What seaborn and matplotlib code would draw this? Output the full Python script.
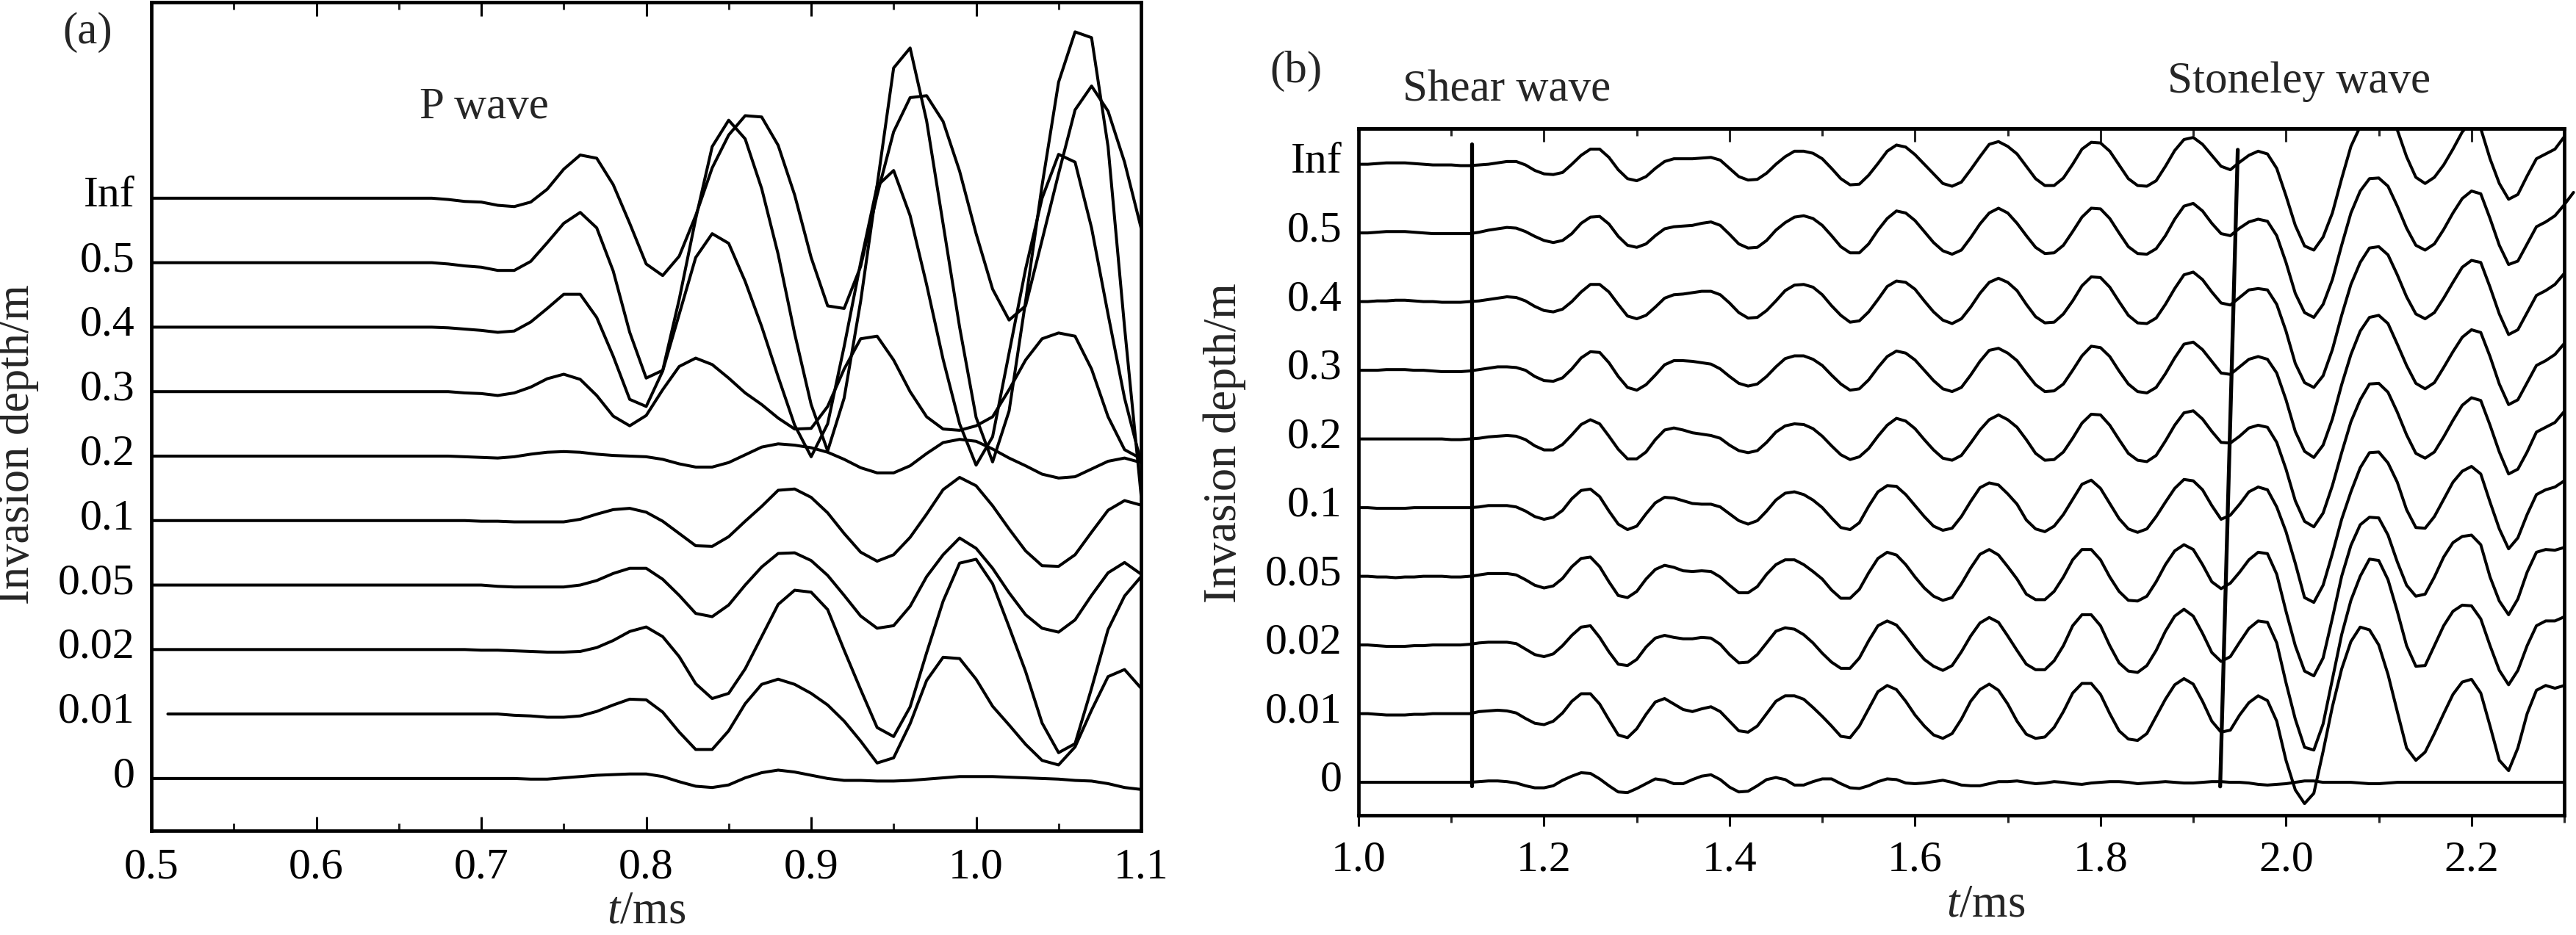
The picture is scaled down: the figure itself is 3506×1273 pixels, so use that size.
import numpy as np
import matplotlib
matplotlib.use('Agg')
import matplotlib.pyplot as plt
import matplotlib.transforms as mtransforms
from matplotlib.font_manager import findfont, FontProperties
import seaborn as sns
from matplotlib.ticker import MultipleLocator, FormatStrFormatter

sns.set_style('ticks')
# fail loudly if the Times-like face is missing instead of silently falling back
findfont(FontProperties(family='Liberation Serif'), fallback_to_default=False)
plt.rcParams['font.family'] = ['Liberation Serif', 'DejaVu Serif']
plt.rcParams['mathtext.fontset'] = 'custom'
plt.rcParams['mathtext.rm'] = 'Liberation Serif'
plt.rcParams['mathtext.it'] = 'Liberation Serif:italic'

depth_labels = ['0', '0.01', '0.02', '0.05', '0.1', '0.2', '0.3', '0.4', '0.5', 'Inf']

# ---------------- (a) P wave, 0.50-1.10 ms, one sample every 0.01 ms ----------------
t_a = np.round(np.arange(0.50, 1.1001, 0.01), 2)

a_inf = [0.0] * 18 + [-0.02, -0.05,
         -0.06, -0.11, -0.13, -0.06, 0.14, 0.45, 0.67, 0.62, 0.21, -0.39,
         -1.02, -1.20, -0.90, -0.27, 0.47, 0.98, 1.28, 1.26, 0.82, 0.05,
         -0.92, -1.67, -1.71, -1.06, 0.05, 1.03, 1.56, 1.59, 1.19, 0.42,
         -0.55, -1.41, -1.89, -1.67, -0.65, 0.38, 1.37, 1.74, 1.35, 0.56,
         -0.46]
a_05 = [0.0] * 18 + [-0.02, -0.05,
        -0.07, -0.12, -0.12, 0.02, 0.31, 0.61, 0.78, 0.54, -0.13, -1.08,
        -1.79, -1.67, -0.57, 0.68, 1.80, 2.21, 1.92, 1.15, 0.13, -1.10,
        -2.20, -2.92, -2.10, -0.60, 1.20, 3.02, 3.33, 2.20, 0.60, -1.00,
        -2.40, -3.09, -2.30, -0.60, 1.20, 2.80, 3.58, 3.49, 1.80, -1.00,
        -3.60]
a_04 = [0.0] * 18 + [-0.01, -0.03,
        -0.05, -0.08, -0.06, 0.08, 0.29, 0.51, 0.51, 0.15, -0.45, -1.12,
        -1.23, -0.68, 0.20, 1.08, 1.45, 1.30, 0.71, 0.01, -0.77, -1.52,
        -2.01, -1.50, -0.30, 1.00, 2.19, 2.43, 1.73, 0.66, -0.50, -1.50,
        -2.14, -1.70, -0.40, 0.90, 2.00, 2.68, 2.56, 1.54, 0.20, -1.10,
        -2.10]
a_03 = [0.0] * 19 + [-0.02,
        -0.03, -0.06, -0.02, 0.07, 0.20, 0.27, 0.19, -0.06, -0.38, -0.53,
        -0.37, 0.03, 0.39, 0.52, 0.42, 0.21, -0.02, -0.20, -0.41, -0.58,
        -0.57, -0.23, 0.35, 0.82, 0.86, 0.49, 0.00, -0.39, -0.58, -0.60,
        -0.53, -0.39, 0.03, 0.49, 0.82, 0.91, 0.86, 0.35, -0.39, -0.90,
        -1.04]
a_02 = [0.0] * 19 + [-0.01,
        -0.02, -0.03, -0.01, 0.03, 0.06, 0.07, 0.06, 0.03, 0.01, 0.00,
        -0.01, -0.05, -0.12, -0.17, -0.17, -0.10, 0.02, 0.14, 0.19, 0.17,
        0.13, 0.06, -0.05, -0.18, -0.26, -0.26, -0.15, 0.04, 0.21, 0.26,
        0.23, 0.11, -0.03, -0.15, -0.28, -0.34, -0.32, -0.20, -0.08, -0.03,
        -0.10]
a_01 = [0.0] * 20 + [
        -0.01, -0.01, -0.02, -0.02, -0.02, -0.02, 0.02, 0.10, 0.17, 0.19,
        0.13, -0.01, -0.20, -0.39, -0.40, -0.25, -0.01, 0.22, 0.47, 0.49,
        0.36, 0.12, -0.20, -0.49, -0.63, -0.53, -0.26, 0.10, 0.48, 0.67,
        0.54, 0.23, -0.13, -0.47, -0.70, -0.71, -0.53, -0.18, 0.16, 0.31,
        0.24]
a_005 = [0.0] * 20 + [
         0.00, -0.02, -0.03, -0.03, -0.03, -0.03, 0.00, 0.07, 0.18, 0.26,
         0.26, 0.09, -0.16, -0.44, -0.49, -0.31, 0.00, 0.28, 0.49, 0.50,
         0.38, 0.15, -0.16, -0.48, -0.67, -0.63, -0.33, 0.13, 0.47, 0.73,
         0.57, 0.26, -0.12, -0.46, -0.67, -0.73, -0.54, -0.16, 0.19, 0.35,
         0.17]
a_002 = [0.0] * 20 + [
         -0.01, -0.01, -0.02, -0.03, -0.04, -0.04, -0.03, 0.03, 0.14, 0.28,
         0.35, 0.20, -0.11, -0.53, -0.76, -0.68, -0.30, 0.20, 0.70, 0.92,
         0.89, 0.62, -0.01, -0.62, -1.21, -1.35, -0.89, -0.05, 0.75, 1.34,
         1.40, 1.02, 0.35, -0.34, -1.14, -1.60, -1.46, -0.60, 0.31, 0.83,
         1.13]
a_001 = [np.nan] + [0.0] * 19 + [
         0.00, 0.00, -0.02, -0.03, -0.05, -0.05, -0.03, 0.04, 0.14, 0.23,
         0.22, 0.03, -0.28, -0.55, -0.55, -0.26, 0.16, 0.46, 0.54, 0.46,
         0.32, 0.14, -0.11, -0.42, -0.76, -0.68, -0.15, 0.52, 0.88, 0.86,
         0.54, 0.12, -0.17, -0.47, -0.72, -0.79, -0.51, 0.06, 0.58, 0.69,
         0.40]
a_0 = [0.0] * 20 + [
       0.00, 0.00, 0.00, -0.01, -0.01, 0.01, 0.03, 0.05, 0.06, 0.07,
       0.07, 0.03, -0.05, -0.12, -0.14, -0.10, 0.01, 0.09, 0.13, 0.10,
       0.05, 0.00, -0.03, -0.03, -0.04, -0.04, -0.03, -0.01, 0.01, 0.03,
       0.03, 0.03, 0.02, 0.01, 0.00, -0.01, -0.03, -0.04, -0.08, -0.14,
       -0.17]

traces_a = [a_0, a_001, a_002, a_005, a_01, a_02, a_03, a_04, a_05, a_inf]

# ---------------- (b) shear + Stoneley, 1.00-2.30 ms, one sample every 0.01 ms ----------------
t_b = np.round(np.arange(1.00, 2.3001, 0.01), 2)

b_inf = [0, 0, 0.01, 0.02, 0.02, 0.02, 0.01, 0, -0.01, -0.01,
         -0.01, -0.02, -0.02, -0.01, 0, 0.02, 0.04, 0.04, -0.01, -0.09,
         -0.14, -0.15, -0.12, 0, 0.13, 0.22, 0.22, 0.10, -0.08, -0.21,
         -0.24, -0.18, -0.06, 0.04, 0.08, 0.08, 0.08, 0.09, 0.10, 0.06,
         -0.06, -0.18, -0.23, -0.22, -0.13, 0, 0.11, 0.19, 0.19, 0.16,
         0.08, -0.06, -0.21, -0.30, -0.29, -0.16, 0.01, 0.19, 0.28, 0.25,
         0.14, 0, -0.14, -0.28, -0.32, -0.26, -0.08, 0.11, 0.29, 0.33,
         0.26, 0.15, -0.03, -0.21, -0.31, -0.31, -0.20, 0, 0.22, 0.32,
         0.31, 0.19, -0.01, -0.21, -0.31, -0.32, -0.24, -0.03, 0.20, 0.36,
         0.39, 0.29, 0.13, -0.03, -0.08, 0.03, 0.13, 0.19, 0.15, -0.06,
         -0.46, -0.89, -1.19, -1.25, -1.06, -0.71, -0.21, 0.26, 0.55, 0.78,
         0.82, 0.72, 0.50, 0.11, -0.19, -0.28, -0.19, -0.01, 0.22, 0.47,
         0.62, 0.52, 0.08, -0.28, -0.51, -0.44, -0.17, 0.08, 0.15, 0.22, 0.40]
b_05 = [0, 0, 0.01, 0.02, 0.02, 0.02, 0.01, 0, -0.01, -0.01,
        -0.01, -0.01, -0.01, 0.01, 0.04, 0.06, 0.08, 0.07, 0.02, -0.05,
        -0.11, -0.14, -0.11, -0.01, 0.14, 0.23, 0.24, 0.13, -0.05, -0.18,
        -0.21, -0.16, -0.04, 0.06, 0.09, 0.10, 0.11, 0.14, 0.16, 0.11,
        -0.02, -0.16, -0.22, -0.21, -0.11, 0.04, 0.15, 0.23, 0.25, 0.21,
        0.11, -0.04, -0.20, -0.29, -0.29, -0.16, 0.04, 0.21, 0.32, 0.29,
        0.18, 0.02, -0.14, -0.26, -0.31, -0.25, -0.07, 0.13, 0.29, 0.36,
        0.29, 0.14, -0.04, -0.21, -0.30, -0.29, -0.18, 0.02, 0.23, 0.36,
        0.35, 0.21, 0, -0.20, -0.30, -0.31, -0.23, -0.04, 0.20, 0.39,
        0.43, 0.32, 0.14, -0.01, -0.04, 0.07, 0.16, 0.20, 0.17, -0.04,
        -0.43, -0.88, -1.16, -1.23, -1.04, -0.68, -0.18, 0.29, 0.61, 0.79,
        0.80, 0.68, 0.39, 0.07, -0.18, -0.25, -0.16, 0.05, 0.29, 0.50,
        0.61, 0.57, 0.21, -0.18, -0.46, -0.41, -0.16, 0.09, 0.16, 0.25, 0.41]
# the 0.5 trace runs one sample past the right frame in the original
b_05_tail_t = [2.30, 2.31]
b_05_tail = [0.41, 0.59]
b_04 = [0, 0, 0.01, 0.01, 0.02, 0.02, 0.01, 0, 0, -0.01,
        -0.01, -0.01, 0, 0.01, 0.03, 0.05, 0.07, 0.06, 0.01, -0.07,
        -0.13, -0.15, -0.11, 0, 0.14, 0.25, 0.25, 0.14, -0.04, -0.21,
        -0.25, -0.20, -0.08, 0.05, 0.10, 0.11, 0.13, 0.15, 0.15, 0.10,
        -0.02, -0.16, -0.24, -0.23, -0.13, 0.01, 0.16, 0.24, 0.25, 0.21,
        0.10, -0.06, -0.20, -0.30, -0.28, -0.15, 0.03, 0.22, 0.30, 0.28,
        0.18, 0.01, -0.15, -0.27, -0.32, -0.25, -0.08, 0.12, 0.28, 0.34,
        0.28, 0.16, -0.04, -0.22, -0.31, -0.30, -0.18, 0.01, 0.23, 0.36,
        0.35, 0.21, 0, -0.20, -0.31, -0.32, -0.24, -0.04, 0.19, 0.39,
        0.43, 0.32, 0.14, -0.02, -0.05, 0.06, 0.17, 0.19, 0.17, -0.04,
        -0.43, -0.90, -1.18, -1.25, -1.08, -0.70, -0.20, 0.25, 0.57, 0.78,
        0.80, 0.68, 0.39, 0.07, -0.18, -0.25, -0.16, 0.05, 0.28, 0.50,
        0.60, 0.57, 0.21, -0.18, -0.48, -0.41, -0.16, 0.09, 0.16, 0.25, 0.41]
b_03 = [0, 0, 0, 0.01, 0.01, 0.01, 0, 0, -0.01, -0.02,
        -0.02, -0.02, -0.01, 0.01, 0.03, 0.05, 0.05, 0.04, 0, -0.09,
        -0.15, -0.16, -0.11, 0.02, 0.18, 0.27, 0.26, 0.11, -0.09, -0.25,
        -0.29, -0.21, -0.07, 0.08, 0.14, 0.14, 0.13, 0.11, 0.09, 0.02,
        -0.09, -0.19, -0.23, -0.20, -0.09, 0.05, 0.17, 0.21, 0.21, 0.16,
        0.07, -0.07, -0.20, -0.29, -0.27, -0.14, 0.04, 0.20, 0.28, 0.25,
        0.15, 0, -0.15, -0.27, -0.31, -0.25, -0.07, 0.13, 0.29, 0.32,
        0.25, 0.14, -0.04, -0.21, -0.31, -0.30, -0.20, 0, 0.21, 0.35,
        0.33, 0.20, -0.01, -0.20, -0.31, -0.33, -0.25, -0.05, 0.18, 0.38,
        0.41, 0.30, 0.13, -0.04, -0.06, 0.05, 0.16, 0.20, 0.16, -0.04,
        -0.43, -0.89, -1.18, -1.27, -1.09, -0.71, -0.21, 0.23, 0.57, 0.77,
        0.80, 0.68, 0.38, 0.07, -0.19, -0.27, -0.18, 0.04, 0.27, 0.48,
        0.59, 0.55, 0.20, -0.20, -0.50, -0.43, -0.18, 0.07, 0.14, 0.23, 0.39]
b_02 = [0, 0, 0, 0, 0, 0, 0, 0, 0, 0,
        -0.01, -0.01, 0, 0.01, 0.03, 0.04, 0.05, 0.04, -0.01, -0.10,
        -0.16, -0.16, -0.08, 0.06, 0.21, 0.28, 0.22, 0.04, -0.15, -0.29,
        -0.29, -0.19, -0.01, 0.13, 0.16, 0.13, 0.09, 0.07, 0.05, 0.01,
        -0.09, -0.17, -0.20, -0.17, -0.05, 0.10, 0.19, 0.22, 0.21, 0.15,
        0.04, -0.10, -0.23, -0.30, -0.26, -0.14, 0.04, 0.20, 0.30, 0.26,
        0.15, -0.01, -0.16, -0.28, -0.31, -0.24, -0.06, 0.13, 0.28, 0.35,
        0.28, 0.17, -0.01, -0.21, -0.31, -0.30, -0.19, 0.01, 0.23, 0.36,
        0.35, 0.20, -0.01, -0.21, -0.31, -0.33, -0.24, -0.03, 0.20, 0.38,
        0.41, 0.29, 0.11, -0.05, -0.06, 0.04, 0.16, 0.20, 0.17, -0.05,
        -0.44, -0.90, -1.20, -1.28, -1.08, -0.68, -0.20, 0.25, 0.57, 0.80,
        0.81, 0.68, 0.39, 0.06, -0.21, -0.28, -0.19, 0.03, 0.27, 0.49,
        0.60, 0.56, 0.20, -0.19, -0.51, -0.44, -0.19, 0.10, 0.17, 0.24, 0.40]
b_01 = [0, 0, -0.01, -0.01, -0.01, -0.01, 0, 0, 0, 0,
        0, 0, 0, 0.01, 0.03, 0.03, 0.03, 0.01, -0.05, -0.13,
        -0.17, -0.14, -0.04, 0.13, 0.25, 0.27, 0.16, -0.05, -0.24, -0.32,
        -0.27, -0.09, 0.07, 0.15, 0.14, 0.10, 0.06, 0.05, 0.05, 0.01,
        -0.09, -0.19, -0.24, -0.19, -0.05, 0.11, 0.21, 0.23, 0.19, 0.11,
        0, -0.15, -0.29, -0.32, -0.22, 0.02, 0.23, 0.32, 0.31, 0.19,
        0.03, -0.13, -0.27, -0.33, -0.30, -0.13, 0.09, 0.29, 0.36, 0.33,
        0.20, 0.05, -0.18, -0.31, -0.35, -0.27, -0.10, 0.12, 0.34, 0.40,
        0.28, 0.06, -0.16, -0.31, -0.36, -0.31, -0.13, 0.08, 0.28, 0.41,
        0.39, 0.26, 0.03, -0.17, -0.11, 0.05, 0.23, 0.30, 0.26, 0.01,
        -0.35, -0.81, -1.31, -1.38, -1.13, -0.67, -0.17, 0.23, 0.58, 0.80,
        0.81, 0.65, 0.37, -0.03, -0.29, -0.30, -0.13, 0.12, 0.37, 0.53,
        0.60, 0.49, 0.08, -0.31, -0.60, -0.44, -0.10, 0.19, 0.26, 0.30, 0.39]
b_005 = [0, 0, -0.01, -0.01, -0.02, -0.01, -0.01, 0, 0, 0,
         -0.01, -0.01, 0, 0.02, 0.04, 0.04, 0.04, 0.02, -0.05, -0.13,
         -0.17, -0.14, -0.03, 0.14, 0.26, 0.28, 0.14, -0.08, -0.28, -0.31,
         -0.22, -0.04, 0.10, 0.16, 0.13, 0.08, 0.07, 0.08, 0.07, -0.01,
         -0.13, -0.24, -0.24, -0.15, 0.03, 0.17, 0.24, 0.24, 0.17, 0.07,
         -0.04, -0.20, -0.32, -0.32, -0.19, 0.05, 0.26, 0.35, 0.31, 0.17,
         -0.01, -0.17, -0.29, -0.35, -0.31, -0.11, 0.12, 0.32, 0.39, 0.31,
         0.14, -0.04, -0.26, -0.34, -0.34, -0.22, -0.01, 0.24, 0.39, 0.39,
         0.24, -0.01, -0.22, -0.35, -0.36, -0.29, -0.08, 0.17, 0.37, 0.46,
         0.39, 0.17, -0.08, -0.18, -0.10, 0.06, 0.24, 0.35, 0.33, 0.03,
         -0.51, -1.01, -1.38, -1.45, -1.19, -0.61, 0.00, 0.45, 0.75, 0.86,
         0.85, 0.60, 0.21, -0.13, -0.29, -0.26, -0.01, 0.28, 0.49, 0.58,
         0.60, 0.46, -0.01, -0.36, -0.56, -0.33, 0.06, 0.35, 0.39, 0.38, 0.42]
b_002 = [0, 0, -0.01, -0.02, -0.02, -0.02, -0.01, -0.01, 0, 0,
         0, 0, 0.01, 0.03, 0.04, 0.04, 0.04, 0.02, -0.06, -0.14,
         -0.17, -0.13, -0.01, 0.14, 0.26, 0.28, 0.11, -0.10, -0.28, -0.30,
         -0.21, -0.03, 0.10, 0.14, 0.11, 0.09, 0.09, 0.11, 0.10, 0.01,
         -0.14, -0.26, -0.25, -0.14, 0.03, 0.20, 0.25, 0.23, 0.15, 0.03,
         -0.12, -0.25, -0.34, -0.34, -0.19, 0.06, 0.28, 0.35, 0.29, 0.13,
         -0.05, -0.21, -0.31, -0.37, -0.30, -0.10, 0.13, 0.32, 0.40, 0.33,
         0.13, -0.08, -0.28, -0.36, -0.36, -0.23, -0.01, 0.28, 0.44, 0.44,
         0.28, -0.01, -0.26, -0.38, -0.40, -0.30, -0.08, 0.20, 0.42, 0.52,
         0.42, 0.17, -0.11, -0.24, -0.17, 0.04, 0.24, 0.35, 0.33, 0.03,
         -0.55, -1.08, -1.49, -1.53, -1.15, -0.50, 0.15, 0.65, 1.00, 1.25,
         1.23, 0.95, 0.49, -0.01, -0.31, -0.30, -0.01, 0.28, 0.49, 0.58,
         0.57, 0.38, -0.01, -0.37, -0.58, -0.37, -0.01, 0.28, 0.35, 0.35, 0.41]
b_001 = [0, 0, -0.01, -0.02, -0.02, -0.02, -0.01, -0.01, 0, 0,
         0, 0, 0, 0.03, 0.04, 0.05, 0.04, 0.01, -0.07, -0.14,
         -0.16, -0.11, 0.01, 0.18, 0.29, 0.29, 0.14, -0.09, -0.31, -0.35,
         -0.22, -0.01, 0.17, 0.22, 0.14, 0.06, 0.03, 0.07, 0.10, 0.03,
         -0.11, -0.25, -0.27, -0.18, 0, 0.18, 0.26, 0.26, 0.21, 0.09,
         -0.04, -0.18, -0.33, -0.35, -0.18, 0.07, 0.32, 0.41, 0.35, 0.18,
         -0.02, -0.18, -0.31, -0.36, -0.29, -0.08, 0.18, 0.35, 0.43, 0.34,
         0.14, -0.11, -0.30, -0.36, -0.34, -0.20, 0.03, 0.30, 0.44, 0.44,
         0.28, 0, -0.25, -0.37, -0.39, -0.29, -0.04, 0.21, 0.42, 0.51,
         0.43, 0.18, -0.11, -0.27, -0.24, -0.02, 0.16, 0.26, 0.19, -0.11,
         -0.68, -1.11, -1.31, -1.16, -0.55, 0.10, 0.65, 1.05, 1.26, 1.22,
         1.00, 0.57, 0.03, -0.50, -0.68, -0.56, -0.29, 0, 0.28, 0.46,
         0.50, 0.30, -0.18, -0.68, -0.83, -0.50, 0, 0.34, 0.41, 0.37, 0.41]
b_0 = [0, 0, 0, 0, 0, 0, 0, 0, 0, 0,
       0, 0, 0, 0.01, 0.02, 0.02, 0.01, -0.01, -0.05, -0.08,
       -0.08, -0.05, 0.03, 0.09, 0.14, 0.13, 0.05, -0.05, -0.14, -0.15,
       -0.09, -0.02, 0.05, 0.03, -0.02, -0.02, 0.04, 0.09, 0.11, 0.04,
       -0.07, -0.14, -0.13, -0.05, 0.04, 0.07, 0.04, -0.04, -0.04, 0.01,
       0.05, 0.05, -0.02, -0.08, -0.09, -0.05, 0.01, 0.05, 0.04, -0.01,
       -0.02, -0.01, 0.01, 0.03, 0, -0.04, -0.05, -0.05, -0.02, 0.01,
       0.01, 0.02, 0, -0.02, -0.01, 0.01, 0, -0.02, -0.03, -0.01,
       0, 0.01, 0.01, 0, -0.02, -0.01, 0, 0.01, 0, -0.01,
       -0.01, 0, 0.01, 0.01, 0, 0, -0.01, -0.03, -0.04, -0.03,
       -0.02, 0, 0.02, 0.02, 0, 0, 0, 0, -0.01, -0.02,
       -0.02, -0.01, 0, 0, 0, 0, 0, 0, 0, 0,
       0, 0, 0, 0, 0, 0, 0, 0, 0, 0, 0]

traces_b = [b_0, b_001, b_002, b_005, b_01, b_02, b_03, b_04, b_05, b_inf]

# picking lines drawn across the gather (time in ms, trace offset)
shear_t = [1.122, 1.122]
shear_y = [-0.05, 9.30]
stoneley_t = [1.929, 1.948]
stoneley_y = [-0.06, 9.21]

# ---------------- figure ----------------
W, H = 3506, 1273
fig = plt.figure(figsize=(W / 100, H / 100), dpi=100)
ax_a = fig.add_axes([206 / W, 1 - 1131 / H, 1347 / W, 1128 / H])
ax_b = fig.add_axes([1849 / W, 1 - 1110 / H, 1641 / W, 935 / H])

FS = 43
LW = 2.9

for k, amp in enumerate(traces_a):
    sns.lineplot(x=t_a, y=np.asarray(amp, dtype=float) + k, ax=ax_a,
                 color='black', lw=LW, estimator=None, legend=False)

for k, amp in enumerate(traces_b):
    sns.lineplot(x=t_b, y=np.asarray(amp, dtype=float) + k, ax=ax_b,
                 color='black', lw=LW, estimator=None, legend=False)
k05 = depth_labels.index('0.5')
sns.lineplot(x=b_05_tail_t, y=np.asarray(b_05_tail) + k05, ax=ax_b,
             color='black', lw=LW, estimator=None, legend=False)
ax_b.lines[-1].set_clip_on(False)

sns.lineplot(x=shear_t, y=shear_y, ax=ax_b, color='black', lw=3.8,
             estimator=None, legend=False, sort=False)
sns.lineplot(x=stoneley_t, y=stoneley_y, ax=ax_b, color='black', lw=3.8,
             estimator=None, legend=False, sort=False)

# labels sit a little above their trace in the original
lift = mtransforms.ScaledTranslation(0, 9 / 100, fig.dpi_scale_trans)

# axes (a)
ax_a.set_xlim(0.5, 1.1)
ax_a.set_ylim(-0.81, 12.04)
ax_a.xaxis.set_major_locator(MultipleLocator(0.1))
ax_a.xaxis.set_minor_locator(MultipleLocator(0.05))
ax_a.xaxis.set_major_formatter(FormatStrFormatter('%.1f'))
ax_a.tick_params(axis='x', which='both', direction='in', top=True, bottom=True,
                 width=2.2, labelsize=FS, pad=17)
ax_a.tick_params(axis='x', which='major', length=13.5)
ax_a.tick_params(axis='x', which='minor', length=7)
ax_a.set_yticks(range(len(depth_labels)))
ax_a.set_yticklabels(depth_labels)
ax_a.tick_params(axis='y', length=0, labelsize=FS, pad=16)
ax_a.set_xlabel(r'$t$/ms', fontsize=45)
ax_a.set_ylabel('Invasion depth/m', fontsize=45)
ax_a.xaxis.set_label_coords(0.5, -0.072)
ax_a.yaxis.set_label_coords(-0.1136, 0.466)

# axes (b)
ax_b.set_xlim(1.0, 2.3)
ax_b.set_ylim(-0.48, 9.52)
ax_b.xaxis.set_major_locator(MultipleLocator(0.2))
ax_b.xaxis.set_minor_locator(MultipleLocator(0.1))
ax_b.xaxis.set_major_formatter(FormatStrFormatter('%.1f'))
ax_b.tick_params(axis='x', which='both', direction='out', width=2.2,
                 labelsize=FS, pad=14)
ax_b.tick_params(axis='x', which='major', length=10.5)
ax_b.tick_params(axis='x', which='minor', length=7)
ax_b.set_yticks(range(len(depth_labels)))
ax_b.set_yticklabels(depth_labels)
ax_b.tick_params(axis='y', length=0, labelsize=FS, pad=16)
ax_b.set_xlabel(r'$t$/ms', fontsize=45)
ax_b.set_ylabel('Invasion depth/m', fontsize=45)
ax_b.xaxis.set_label_coords(0.52, -0.1)
ax_b.yaxis.set_label_coords(-0.093, 0.542)

top_b = ax_b.secondary_xaxis('top')
top_b.xaxis.set_major_locator(MultipleLocator(0.2))
top_b.xaxis.set_minor_locator(MultipleLocator(0.1))
top_b.tick_params(axis='x', which='both', direction='in', labeltop=False, width=2.2)
top_b.tick_params(axis='x', which='major', length=13)
top_b.tick_params(axis='x', which='minor', length=7)
top_b.spines['top'].set_linewidth(3.4)

for ax in (ax_a, ax_b):
    for sp in ax.spines.values():
        sp.set_visible(True)
        sp.set_color('black')
        sp.set_linewidth(3.4)
    ax.tick_params(colors='black')
    for lab in ax.get_yticklabels():
        lab.set_transform(lab.get_transform() + lift)

# panel tags and wave annotations
fig.text(119 / W, 1 - 44 / H, '(a)', fontsize=44, ha='center', va='center')
fig.text(659 / W, 1 - 146 / H, 'P wave', fontsize=44, ha='center', va='center')
fig.text(1764 / W, 1 - 97 / H, '(b)', fontsize=44, ha='center', va='center')
fig.text(2051 / W, 1 - 122 / H, 'Shear wave', fontsize=44, ha='center', va='center')
fig.text(3129 / W, 1 - 111 / H, 'Stoneley wave', fontsize=44, ha='center', va='center')

fig.savefig('out.png', dpi=100)
